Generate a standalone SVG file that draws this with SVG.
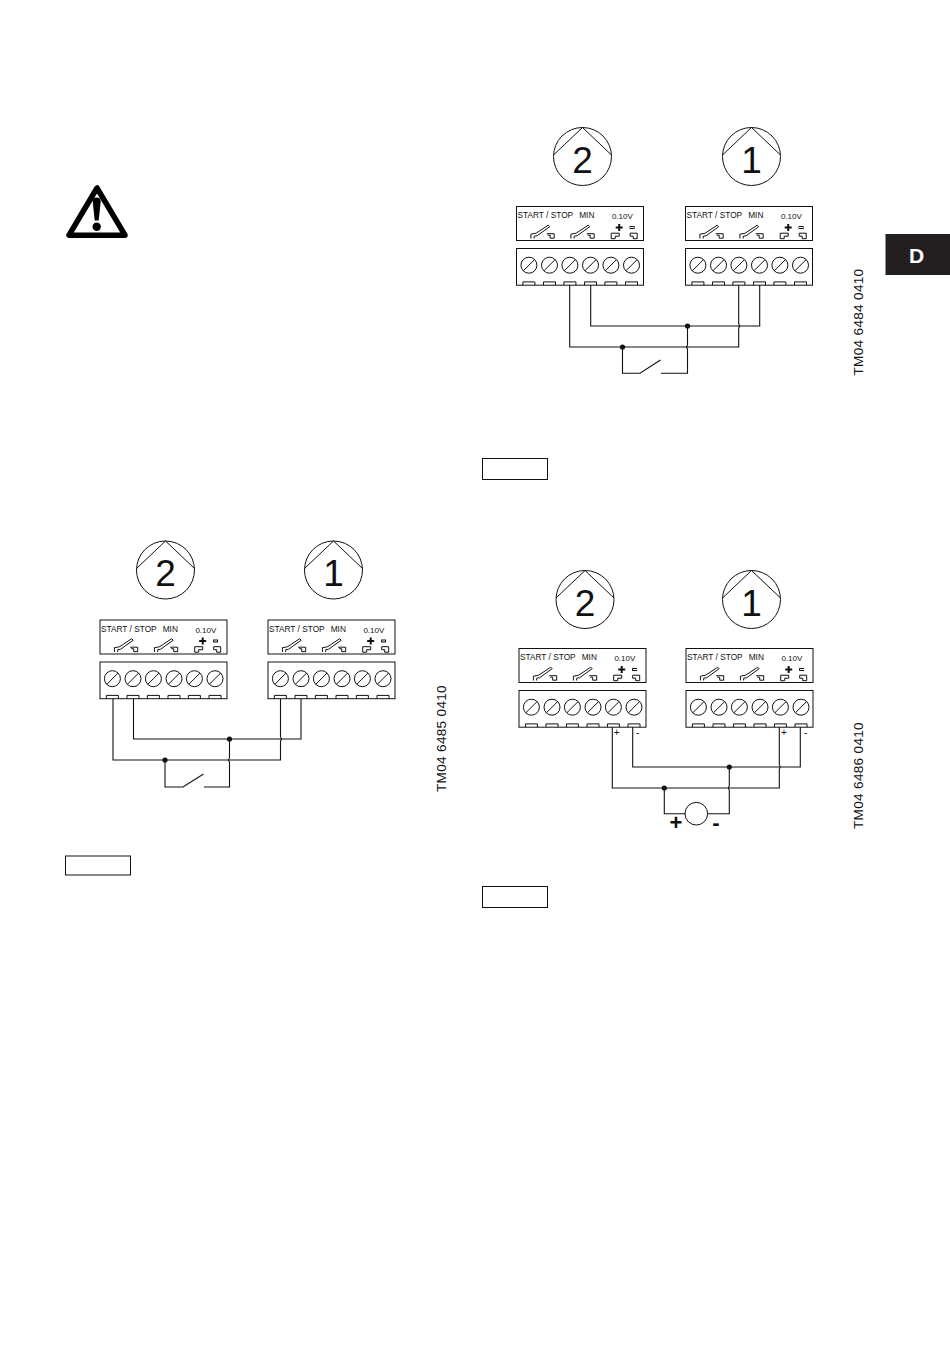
<svg xmlns="http://www.w3.org/2000/svg" width="950" height="1347" viewBox="0 0 950 1347">
<style>
text{font-family:"Liberation Sans",Arial,sans-serif;fill:#111}
.ln{fill:none;stroke:#111;stroke-width:1}
.thin{fill:none;stroke:#111;stroke-width:1}
.wire{fill:none;stroke:#111;stroke-width:1.1}
.dot{fill:#111}
.lbl{font-size:8.3px}
.v{font-size:8px}
.num{font-size:37px;text-anchor:middle}
.tm{font-size:13.6px;letter-spacing:.3px}
.sm{font-size:10px;text-anchor:middle}
.big{font-size:22px;font-weight:bold;text-anchor:middle}
</style>
<defs>
<g id="sw"><path class="thin" d="M14.4 32V27.7L19.7 26.7L31.7 18.7L33.2 20.2L20.7 29.2L17.7 29.7V32M30.2 27.2H37.7V31.7H33.7V28.7H31.2"/></g>
<g id="panel">
<rect class="ln" x="0" y="0" width="127" height="34"/>
<use href="#sw"/><use href="#sw" x="40"/>
<path d="M102.700 17.500V24.500M99.200 21H106.200" fill="none" stroke="#111" stroke-width="2"/>
<rect x="113.600" y="20" width="4" height="2" class="thin"/>
<path class="thin" d="M94.700 32.200V26.700H102.700V29.700H98.700V32.200ZM113.700 26.700H120.700V32.200H116.700V29.700H113.700Z"/>
</g>
<g id="screw"><circle class="ln" r="8"/><path class="ln" d="M-5.600 5.600L5.600 -5.600"/></g>
<path id="slot" class="ln" d="M-6 78.700V75.400H6V78.700"/>
<g id="block">
<rect class="ln" x="0" y="42" width="127" height="36.700"/>
<use href="#screw" x="12.400" y="58.700"/><use href="#screw" x="33" y="58.700"/><use href="#screw" x="53.400" y="58.700"/><use href="#screw" x="74" y="58.700"/><use href="#screw" x="94.400" y="58.700"/><use href="#screw" x="115" y="58.700"/>
<use href="#slot" x="12.400"/><use href="#slot" x="33"/><use href="#slot" x="53.400"/><use href="#slot" x="74"/><use href="#slot" x="94.400"/><use href="#slot" x="115"/>
</g>
<g id="pumpshape"><circle class="ln" r="29"/><path class="ln" d="M-29 -1.500L0 -29L29 -1.500"/></g>
</defs>

<g id="warning">
<path d="M97 188L69 235.200H125Z" fill="none" stroke="#000" stroke-width="5.500" stroke-linejoin="round"/>
<path d="M92.700 201.500Q92.700 197.500 96.700 197.500Q100.700 197.500 100.700 201.500L98.700 220.500H94.700Z" fill="#000"/>
<circle cx="96.700" cy="226.700" r="4.200" fill="#000"/>
</g>
<g id="tab"><rect x="885.500" y="234" width="64.500" height="41" fill="#231f20"/><text x="916.700" y="263" style="fill:#fff;font-size:21px;font-weight:bold;text-anchor:middle">D</text></g>

<g id="label-a"><rect class="ln" x="65.500" y="856" width="65" height="19"/></g>
<g id="label-b"><rect class="ln" x="482.500" y="458.500" width="65" height="21"/></g>
<g id="label-c"><rect class="ln" x="482.500" y="886.500" width="65" height="21"/></g>

<text id="code-a" class="tm" transform="translate(445.500 792) rotate(-90)">TM04 6485 0410</text>
<text id="code-b" class="tm" transform="translate(862.500 375.500) rotate(-90)">TM04 6484 0410</text>
<text id="code-c" class="tm" transform="translate(862.500 829) rotate(-90)">TM04 6486 0410</text>

<g id="pump-b2" transform="translate(582.500 156.500)"><use href="#pumpshape"/><text class="num" y="16">2</text></g>
<g id="pump-b1" transform="translate(751.500 156.500)"><use href="#pumpshape"/><text class="num" y="16">1</text></g>
<g id="pump-a2" transform="translate(165.500 570)"><use href="#pumpshape"/><text class="num" y="16">2</text></g>
<g id="pump-a1" transform="translate(333.500 570)"><use href="#pumpshape"/><text class="num" y="16">1</text></g>
<g id="pump-c2" transform="translate(585 599.500)"><use href="#pumpshape"/><text class="num" y="16">2</text></g>
<g id="pump-c1" transform="translate(751.500 599.500)"><use href="#pumpshape"/><text class="num" y="16">1</text></g>

<g id="term-b2" transform="translate(516.500 206.500)"><use href="#panel"/><use href="#block"/><text class="lbl" x="1" y="11.800">START / STOP</text><text class="lbl" x="62.700" y="11.800">MIN</text><text class="v" x="95.400" y="12.800">0.10V</text></g>
<g id="term-b1" transform="translate(685.500 206.500)"><use href="#panel"/><use href="#block"/><text class="lbl" x="1" y="11.800">START / STOP</text><text class="lbl" x="62.700" y="11.800">MIN</text><text class="v" x="95.400" y="12.800">0.10V</text></g>
<g id="term-a2" transform="translate(100 620)"><use href="#panel"/><use href="#block"/><text class="lbl" x="1" y="11.800">START / STOP</text><text class="lbl" x="62.700" y="11.800">MIN</text><text class="v" x="95.400" y="12.800">0.10V</text></g>
<g id="term-a1" transform="translate(268 620)"><use href="#panel"/><use href="#block"/><text class="lbl" x="1" y="11.800">START / STOP</text><text class="lbl" x="62.700" y="11.800">MIN</text><text class="v" x="95.400" y="12.800">0.10V</text></g>
<g id="term-c2" transform="translate(519 648.500)"><use href="#panel"/><use href="#block"/><text class="lbl" x="1" y="11.800">START / STOP</text><text class="lbl" x="62.700" y="11.800">MIN</text><text class="v" x="95.400" y="12.800">0.10V</text></g>
<g id="term-c1" transform="translate(686 648.500)"><use href="#panel"/><use href="#block"/><text class="lbl" x="1" y="11.800">START / STOP</text><text class="lbl" x="62.700" y="11.800">MIN</text><text class="v" x="95.400" y="12.800">0.10V</text></g>

<g id="connectors">
<path class="wire" d="M569.700 285V347H738.700V328Q740.500 326 738.700 324V285"/>
<path class="wire" d="M590.700 285V326H759.700V285"/>
<path class="wire" d="M622.500 347V373.300H640L660.500 360M661 373.300H687.500V349Q685.700 347 687.500 345V326"/>
<circle class="dot" cx="687.500" cy="326" r="2.600"/><circle class="dot" cx="622.500" cy="347" r="2.600"/>

<path class="wire" d="M113 699V760H280.500V741Q282.300 739 280.500 737V699"/>
<path class="wire" d="M133.500 699V739H301V699"/>
<path class="wire" d="M165 760V787H183L203.500 774M204 787H229.500V762Q227.700 760 229.500 758V739"/>
<circle class="dot" cx="229.500" cy="739" r="2.600"/><circle class="dot" cx="165" cy="760" r="2.600"/>

<path class="wire" d="M612.300 727V788H779.300V769Q781.100 767 779.300 765V727"/>
<path class="wire" d="M632.700 727V767H800.300V727"/>
<path class="wire" d="M664.300 788V813.700H685.300M707.300 813.700H729.300V790Q727.500 788 729.300 786V767"/>
<circle class="dot" cx="729.300" cy="767" r="2.600"/><circle class="dot" cx="664.300" cy="788" r="2.600"/>
</g>

<g id="meter"><circle class="ln" cx="696.300" cy="813.700" r="11.300"/><text class="big" x="676" y="829.500">+</text><text class="big" x="716" y="829.500">-</text></g>
<g id="polarity"><text class="sm" x="616.700" y="735.500">+</text><text class="sm" x="637.700" y="735.500">-</text><text class="sm" x="784" y="735.500">+</text><text class="sm" x="805.700" y="735.500">-</text></g>
</svg>
